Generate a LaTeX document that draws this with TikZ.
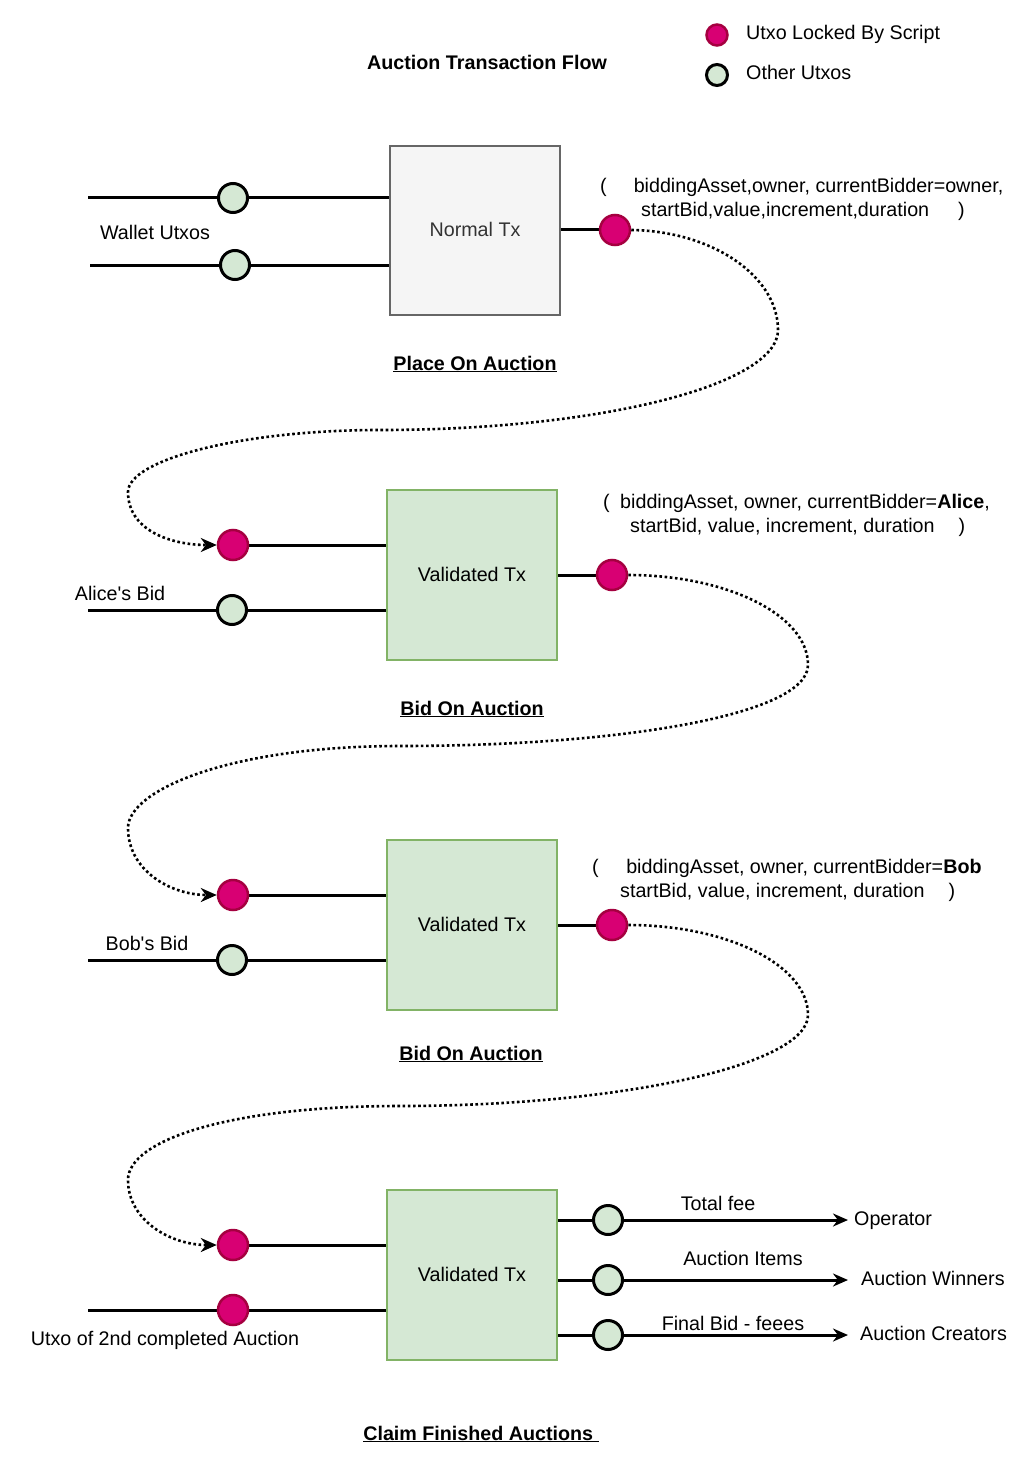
\documentclass[tikz,border=0pt]{standalone}
\usepackage{fontspec}
\setmainfont{Liberation Sans}[Ligatures=TeXOff]
\usetikzlibrary{arrows.meta}
\pgfdeclarelayer{bg}
\pgfsetlayers{bg,main}
\definecolor{lockfill}{HTML}{D80073}
\definecolor{lockline}{HTML}{A50040}
\definecolor{utxofill}{HTML}{D5E8D4}
\definecolor{txline}{HTML}{82B366}
\definecolor{normfill}{HTML}{F5F5F5}
\definecolor{normline}{HTML}{666666}
\definecolor{normtext}{HTML}{333333}
\begin{document}
\begin{tikzpicture}[x=1pt,y=1pt,
  every node/.style={font=\fontsize{19.7}{23.5}\selectfont},
  txt/.style={inner sep=0pt},
  locked/.style={circle, fill=lockfill, draw=lockline, line width=2.5pt, minimum size=30pt, inner sep=0pt},
  other/.style={circle, fill=utxofill, draw=black, line width=3pt, minimum size=29pt, inner sep=0pt},
  legendsize/.style={minimum size=21pt},
  normbox/.style={rectangle, fill=normfill, draw=normline, line width=1.2pt, minimum width=170pt, minimum height=169pt, text=normtext},
  valbox/.style={rectangle, fill=utxofill, draw=txline, line width=1.2pt, minimum width=170pt, minimum height=170pt},
  wire/.style={line width=3pt},
  payout/.style={wire, -{Stealth[length=15pt,width=13pt]}},
  flow/.style={line width=2.6pt, dash pattern=on 2.6pt off 2.6pt, -{Stealth[length=16pt,width=14pt]}},
  caption/.style={txt, font=\fontsize{19.7}{23.5}\selectfont\bfseries}
]
\begin{pgfonlayer}{bg}
  \fill[white] (0,0) rectangle (1034,-1471);
\end{pgfonlayer}
\useasboundingbox (0,0) rectangle (1034,-1471);

% legend
\node[locked, legendsize] (lgL) at (717,-35) {};
\node[other, legendsize] (lgO) at (717,-75) {};
\node[txt, anchor=base west] (lgLt) at (746,-40) {Utxo Locked By Script};
\node[txt, anchor=base west] (lgOt) at (746,-80) {Other Utxos};

% title
\node[caption, anchor=base] (title) at (487,-70) {Auction Transaction Flow};

% ---- place on auction ----
\node[normbox] (tx1) at (475,-230.5) {\raisebox{2pt}{Normal Tx}};
\coordinate (w1s) at (88,-198);
\coordinate (w2s) at (90,-265);
\node[other] (w1) at (233,-198) {};
\node[other] (w2) at (235,-265) {};
\node[locked] (s1) at (615,-230) {};
\node[txt, anchor=base] (wl) at (155,-240) {Wallet Utxos};
\node[caption, anchor=base] (c1) at (475,-370) {\underline{Place On Auction}};
\node[txt, anchor=base west] (d1a) at (600,-193) {(\hspace{27pt}biddingAsset,owner, currentBidder=owner,};
\node[txt, anchor=base west] (d1b) at (641,-217) {startBid,value,increment,duration\hspace{29pt})};

% ---- first bid ----
\node[valbox] (tx2) at (472,-575) {\raisebox{2pt}{Validated Tx}};
\coordinate (a2s) at (88,-610);
\node[locked] (r2) at (233,-545) {};
\node[other] (g2) at (232,-610) {};
\node[locked] (s2) at (612,-575) {};
\node[txt, anchor=base] (al) at (120,-600) {Alice's Bid};
\node[caption, anchor=base] (c2) at (472,-715) {\underline{Bid On Auction}};
\node[txt, anchor=base west] (d2a) at (603,-508) {(\hspace{10.5pt}biddingAsset, owner, currentBidder=\textbf{Alice},};
\node[txt, anchor=base west] (d2b) at (630,-532) {startBid, value, increment, duration\hspace{24pt})};

% ---- second bid ----
\node[valbox] (tx3) at (472,-925) {\raisebox{2pt}{Validated Tx}};
\coordinate (b3s) at (88,-960);
\node[locked] (r3) at (233,-895) {};
\node[other] (g3) at (232,-960) {};
\node[locked] (s3) at (612,-925) {};
\node[txt, anchor=base] (bl) at (147,-950) {Bob's Bid};
\node[caption, anchor=base] (c3) at (471,-1060) {\underline{Bid On Auction}};
\node[txt, anchor=base west] (d3a) at (592,-873) {(\hspace{27.5pt}biddingAsset, owner, currentBidder=\textbf{Bob}};
\node[txt, anchor=base west] (d3b) at (620,-897) {startBid, value, increment, duration\hspace{24pt})};

% ---- claim ----
\node[valbox] (tx4) at (472,-1275) {\raisebox{2pt}{Validated Tx}};
\coordinate (c4s) at (88,-1310);
\node[locked] (r4) at (233,-1245) {};
\node[locked] (r5) at (233,-1310) {};
\node[other] (o1) at (608,-1220) {};
\node[other] (o2) at (608,-1280) {};
\node[other] (o3) at (608,-1335) {};
\coordinate (e1) at (848,-1220);
\coordinate (e2) at (848,-1280);
\coordinate (e3) at (848,-1335);
\node[txt, anchor=base] (cl) at (165,-1345) {Utxo of 2nd completed Auction};
\node[txt, anchor=base] (p1) at (718,-1210) {Total fee};
\node[txt, anchor=base] (p2) at (743,-1265) {Auction Items};
\node[txt, anchor=base] (p3) at (733,-1330) {Final Bid - feees};
\node[txt, anchor=base west] (t1) at (854,-1225) {Operator};
\node[txt, anchor=base west] (t2) at (861,-1285) {Auction Winners};
\node[txt, anchor=base west] (t3) at (860,-1340) {Auction Creators};
\node[caption, anchor=base] (c4) at (481,-1440) {\underline{Claim Finished Auctions~}};

\begin{pgfonlayer}{bg}
  % inputs and outputs of each transaction
  \draw[wire] (w1s) -- (w1) -- (w1 -| tx1.west);
  \draw[wire] (w2s) -- (w2) -- (w2 -| tx1.west);
  \draw[wire] (tx1.east |- s1) -- (s1);

  \draw[wire] (r2) -- (r2 -| tx2.west);
  \draw[wire] (a2s) -- (g2) -- (g2 -| tx2.west);
  \draw[wire] (tx2.east |- s2) -- (s2);

  \draw[wire] (r3) -- (r3 -| tx3.west);
  \draw[wire] (b3s) -- (g3) -- (g3 -| tx3.west);
  \draw[wire] (tx3.east |- s3) -- (s3);

  \draw[wire] (r4) -- (r4 -| tx4.west);
  \draw[wire] (c4s) -- (r5) -- (r5 -| tx4.west);
  \draw[wire] (tx4.east |- o1) -- (o1);
  \draw[wire] (tx4.east |- o2) -- (o2);
  \draw[wire] (tx4.east |- o3) -- (o3);
\end{pgfonlayer}

% payouts
\draw[payout] (o1) -- (e1);
\draw[payout] (o2) -- (e2);
\draw[payout] (o3) -- (e3);

% script utxo carried into the next transaction
\draw[flow] (s1.east) .. controls (712,-231) and (778,-276) .. (778,-330)
  .. controls (778,-385) and (600,-430) .. (380,-430)
  .. controls (240,-430) and (128,-460) .. (128,-492)
  .. controls (128,-530) and (170,-545) .. (r2.west);
\draw[flow] (s2.east) .. controls (727,-575) and (808,-615) .. (808,-665)
  .. controls (808,-715) and (620,-746) .. (400,-746)
  .. controls (230,-746) and (128,-790) .. (128,-828)
  .. controls (128,-870) and (170,-895) .. (r3.west);
\draw[flow] (s3.east) .. controls (727,-925) and (808,-965) .. (808,-1015)
  .. controls (808,-1065) and (620,-1106) .. (400,-1106)
  .. controls (230,-1106) and (128,-1140) .. (128,-1180)
  .. controls (128,-1220) and (170,-1245) .. (r4.west);
\end{tikzpicture}
\end{document}
